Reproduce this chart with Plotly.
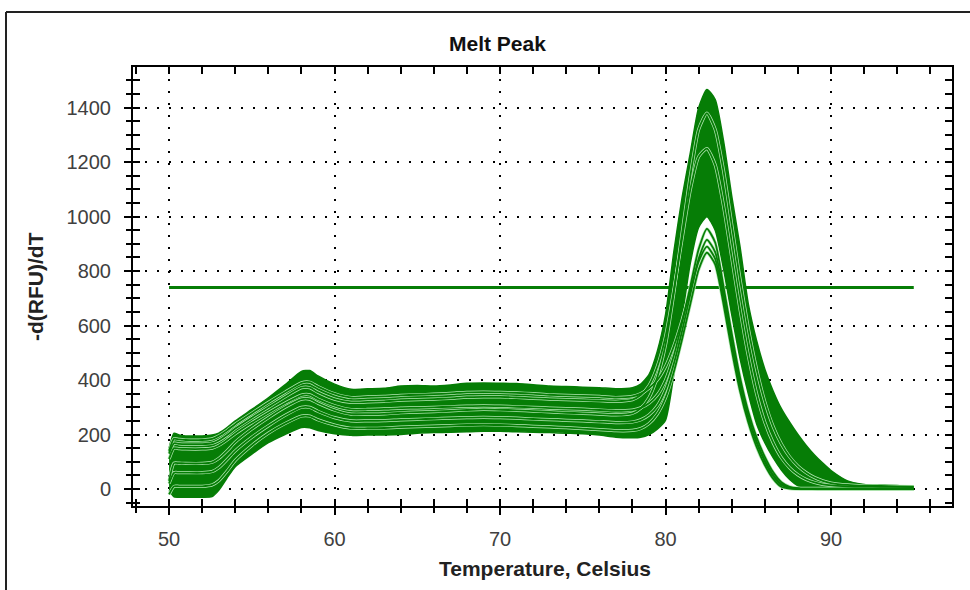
import plotly.graph_objects as go

# ---------------- data ----------------
temps = [50.0, 50.3, 50.6, 51, 52, 52.6, 53, 53.5, 54,
         55, 56, 57, 58, 58.5,
         59, 60, 61, 62, 63, 64, 65, 66, 67, 68, 69, 70, 71, 72, 73, 74, 75, 76, 77, 78,
         78.5, 79, 79.5, 80,
         80.5, 81, 81.5, 82, 82.5, 83, 83.5, 84, 84.5, 85, 85.5, 86, 86.5, 87, 87.5, 88, 88.5, 89, 89.5, 90,
         91, 92, 93, 94, 95]

# upper edge of the dense green band of wells
band_upper = [150, 205, 198, 195, 195, 198, 205, 225, 250,
              292, 335, 382, 432, 435,
              415, 385, 366, 368, 370, 378, 380, 378, 382, 388, 389, 388, 387, 383, 378, 376, 374, 372, 368, 372,
              385, 420, 505, 640,
              870, 1070, 1235, 1400, 1467, 1430, 1280, 1075, 890, 680, 545, 440, 360, 295, 245, 200, 160, 125, 95, 68,
              30, 17, 15, 13, 8]

# lower edge of the dense green band of wells
band_lower = [-5, -29, -30, -30, -30, -28, -5, 40, 82,
              128, 170, 200, 226, 225,
              215, 203, 197, 198, 198, 200, 205, 207, 208, 210, 212, 212, 210, 208, 207, 205, 203, 198, 190, 188,
              190, 200, 220, 253,
              420, 630, 830, 960, 1000, 950, 810, 640, 480, 350, 240, 170, 115, 70, 35, 12, 2, -2, -3, -3,
              -3, -3, -3, -3, -3]

# individual wells that stand out from the band
well_e = [130, 168, 166, 165, 165, 168, 178, 198, 222,
          262, 300, 338, 372, 372,
          355, 330, 318, 320, 322, 326, 328, 330, 333, 337, 338, 338, 336, 333, 330, 328, 326, 324, 322, 328,
          345, 380, 450, 560,
          730, 920, 1100, 1220, 1250, 1190, 1040, 850, 660, 490, 350, 245, 170, 115, 78, 52, 35, 24, 17, 13,
          10, 9, 8, 8, 7]

well_f = [30, 95, 95, 94, 94, 98, 112, 140, 172,
          220, 262, 300, 330, 330,
          315, 290, 275, 275, 276, 280, 282, 284, 287, 290, 292, 291, 289, 286, 283, 280, 278, 275, 272, 278,
          296, 335, 410, 530,
          720, 940, 1150, 1320, 1380, 1320, 1170, 970, 770, 590, 440, 320, 230, 165, 118, 84, 60, 42, 30, 22,
          15, 12, 11, 10, 9]

well_a = [110, 150, 148, 147, 147, 150, 160, 180, 203,
          243, 280, 315, 345, 346,
          330, 306, 292, 292, 294, 297, 298, 300, 302, 304, 305, 304, 302, 300, 297, 295, 293, 290, 287, 290,
          298, 315, 345, 400,
          490, 610, 745, 880, 955, 905, 745, 570, 410, 285, 190, 118, 62, 25, 8, 3, 2, 2, 2, 2,
          2, 2, 2, 2, 2]

well_b = [20, 60, 60, 60, 60, 64, 78, 108, 140,
          190, 232, 270, 300, 300,
          285, 262, 250, 250, 251, 254, 256, 258, 260, 262, 263, 262, 260, 257, 255, 252, 250, 247, 244, 246,
          254, 272, 305, 365,
          460, 580, 715, 845, 915, 870, 720, 545, 390, 268, 175, 105, 52, 18, 5, 1, 0, 0, 0, 0,
          0, 0, 0, 0, 0]

well_c = [140, 185, 182, 180, 180, 184, 195, 215, 238,
          278, 318, 355, 390, 392,
          376, 350, 336, 338, 340, 344, 346, 348, 351, 355, 356, 355, 353, 350, 346, 344, 342, 340, 336, 340,
          350, 370, 400, 450,
          525, 620, 730, 835, 890, 845, 700, 530, 380, 262, 170, 100, 48, 15, 4, 1, 0, 0, 0, 0,
          0, 0, 0, 0, 0]

well_d = [-20, 10, 10, 10, 10, 15, 30, 65, 105,
          160, 205, 240, 268, 268,
          254, 235, 223, 223, 224, 227, 229, 231, 233, 235, 236, 235, 233, 230, 228, 225, 222, 218, 214, 215,
          222, 240, 275, 335,
          430, 550, 680, 805, 868, 825, 680, 510, 360, 245, 155, 88, 38, 8, 1, 0, 0, 0, 0, 0,
          0, 0, 0, 0, 0]

wells = [well_e, well_f, well_a, well_b, well_c, well_d]

threshold_x = [50, 95]
threshold_y = [740, 740]

x_ticks = [50, 60, 70, 80, 90]
y_ticks = [0, 200, 400, 600, 800, 1000, 1200, 1400]

# ---------------- styling ----------------
GREEN = "#067d06"
HALO = "#b4e8b4"
FONT = "Liberation Sans, Arial, sans-serif"
XR = [47.82, 97.31]
YR = [-62.4, 1549.4]

fig = go.Figure()

# threshold line (behind the curves)
fig.add_trace(go.Scatter(x=threshold_x, y=threshold_y, mode="lines",
                         line=dict(color=GREEN, width=3), hoverinfo="skip", showlegend=False))

# dense band of wells
fig.add_trace(go.Scatter(x=temps, y=band_lower, mode="lines",
                         line=dict(color=GREEN, width=1.5, shape="spline", smoothing=0.6),
                         hoverinfo="skip", showlegend=False))
fig.add_trace(go.Scatter(x=temps, y=band_upper, mode="lines", fill="tonexty", fillcolor=GREEN,
                         line=dict(color=GREEN, width=1.5, shape="spline", smoothing=0.6),
                         hoverinfo="skip", showlegend=False))

# individual wells: thin light halo then dark line
for w in wells:
    fig.add_trace(go.Scatter(x=temps, y=w, mode="lines",
                             line=dict(color=HALO, width=3.2, shape="spline", smoothing=0.6),
                             hoverinfo="skip", showlegend=False))
for w in wells:
    fig.add_trace(go.Scatter(x=temps, y=w, mode="lines",
                             line=dict(color=GREEN, width=1.8, shape="spline", smoothing=0.6),
                             hoverinfo="skip", showlegend=False))

# dummy traces so that the overlay axes (outer halves of crossing ticks) are drawn
fig.add_trace(go.Scatter(x=[None], y=[None], xaxis="x2", yaxis="y", showlegend=False, hoverinfo="skip"))
fig.add_trace(go.Scatter(x=[None], y=[None], xaxis="x", yaxis="y2", showlegend=False, hoverinfo="skip"))

tickfont = dict(family=FONT, size=20, color="#404040")

fig.update_layout(
    width=970, height=590,
    margin=dict(l=133, r=18, t=67, b=84),
    paper_bgcolor="white", plot_bgcolor="white",
    showlegend=False,
    xaxis=dict(range=XR, tickmode="array", tickvals=x_ticks, ticks="inside", ticklen=7, tickwidth=2,
               tickcolor="black", showline=True, linewidth=2, linecolor="black", mirror="allticks",
               showgrid=True, gridcolor="black", gridwidth=1.5, griddash="2px,10px", zeroline=False,
               minor=dict(tickmode="linear", tick0=0, dtick=2, ticks="inside", ticklen=5, tickwidth=1.5,
                          tickcolor="black", showgrid=False),
               tickfont=tickfont, ticklabelstandoff=14),
    xaxis2=dict(range=XR, overlaying="x", anchor="y", side="bottom", tickmode="array", tickvals=x_ticks,
                ticks="outside", ticklen=8, tickwidth=2, tickcolor="black", showticklabels=False,
                showline=False, showgrid=False, zeroline=False,
                minor=dict(tickmode="linear", tick0=0, dtick=2, ticks="outside", ticklen=6, tickwidth=1.5,
                           tickcolor="black", showgrid=False)),
    yaxis=dict(range=YR, tickmode="array", tickvals=y_ticks, ticks="inside", ticklen=7, tickwidth=2,
               tickcolor="black", showline=True, linewidth=2, linecolor="black", mirror="allticks",
               showgrid=True, gridcolor="black", gridwidth=1.5, griddash="2px,10px", zeroline=False,
               minor=dict(tickmode="linear", tick0=0, dtick=50, ticks="inside", ticklen=5, tickwidth=1.5,
                          tickcolor="black", showgrid=False),
               tickfont=tickfont, ticklabelstandoff=16),
    yaxis2=dict(range=YR, overlaying="y", anchor="x", side="left", tickmode="array", tickvals=y_ticks,
                ticks="outside", ticklen=8, tickwidth=2, tickcolor="black", showticklabels=False,
                showline=False, showgrid=False, zeroline=False,
                minor=dict(tickmode="linear", tick0=0, dtick=50, ticks="outside", ticklen=6, tickwidth=1.5,
                           tickcolor="black", showgrid=False)),
    annotations=[
        dict(text="<b>Melt Peak</b>", xref="paper", yref="paper", x=(497 - 133) / 819, y=(506 - 43) / 439,
             showarrow=False, font=dict(family=FONT, size=21, color="#111111"), xanchor="center", yanchor="middle"),
        dict(text="<b>Temperature, Celsius</b>", xref="paper", yref="paper", x=(545 - 133) / 819,
             y=(506 - 568) / 439, showarrow=False, font=dict(family=FONT, size=21, color="#222222"),
             xanchor="center", yanchor="middle"),
        dict(text="<b>-d(RFU)/dT</b>", xref="paper", yref="paper", x=(35 - 133) / 819, y=(506 - 287) / 439,
             showarrow=False, textangle=-90, font=dict(family=FONT, size=21, color="#222222"),
             xanchor="center", yanchor="middle"),
    ],
    shapes=[
        dict(type="line", xref="paper", yref="paper", x0=(6 - 133) / 819, x1=(6 - 133) / 819,
             y0=(506 - 12) / 439, y1=(506 - 595) / 439, line=dict(color="#222222", width=2)),
        dict(type="line", xref="paper", yref="paper", x0=(6 - 133) / 819, x1=(975 - 133) / 819,
             y0=(506 - 12) / 439, y1=(506 - 12) / 439, line=dict(color="#222222", width=2)),
    ],
)

fig.write_html("out.html")
